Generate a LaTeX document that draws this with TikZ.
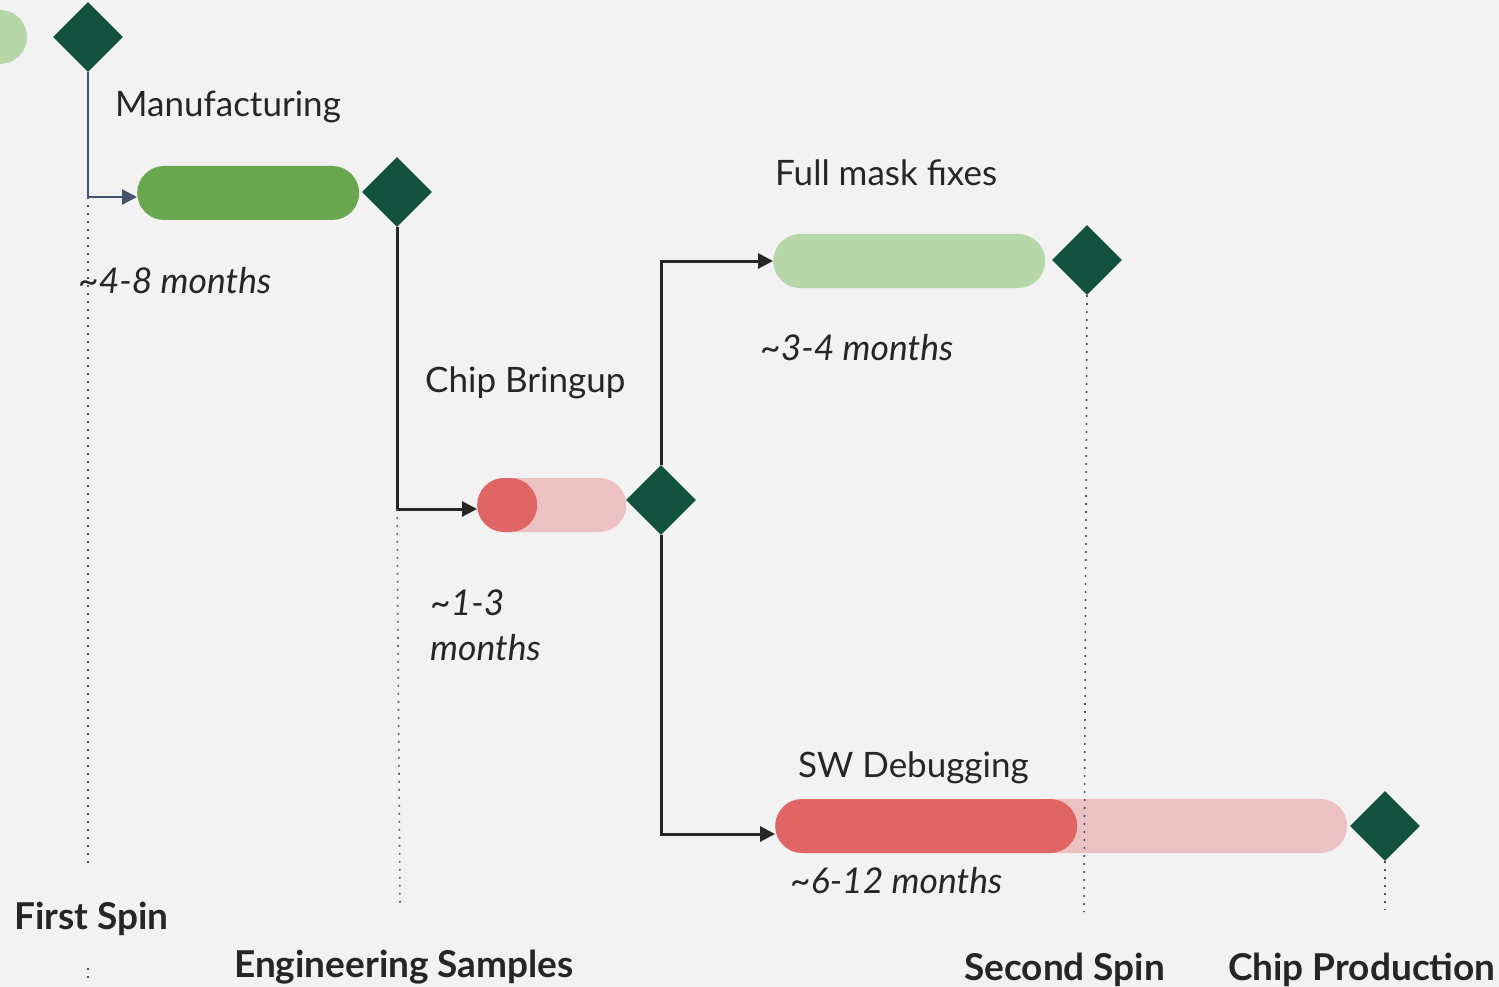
\documentclass[tikz,border=0pt]{standalone}
\usepackage{fontspec}
\setmainfont{Lato}
\usetikzlibrary{shapes.geometric,shapes.misc,arrows.meta,positioning}
\definecolor{fondo}{HTML}{F2F2F2}
\definecolor{verdeosc}{HTML}{12523E}
\definecolor{verdemed}{HTML}{6AA84F}
\definecolor{verdeclaro}{HTML}{B6D7A8}
\definecolor{rojo}{HTML}{E06666}
\definecolor{rosa}{HTML}{ECC1C1}
\definecolor{pizarra}{HTML}{44546A}
\definecolor{tinta}{HTML}{262626}
\begin{document}
\begin{tikzpicture}[x=1pt,y=-1pt,>={Triangle[length=15pt,width=15pt]},
    hito/.style={diamond,fill=verdeosc,minimum size=70pt,inner sep=0pt},
    barra/.style={rounded rectangle,minimum height=54pt,inner sep=0pt,anchor=west},
    texto/.style={anchor=base west,inner sep=0pt,text=tinta,font=\fontsize{35}{45}\selectfont},
    duracion/.style={texto,font=\fontsize{35.5}{45}\selectfont\itshape},
    fase/.style={texto,font=\fontsize{37}{45}\selectfont\bfseries},
    conector/.style={line width=3pt,tinta},
    guia/.style={line width=1.6pt,pizarra,dash pattern=on 1.6pt off 6.4pt}]
      \useasboundingbox (0,0) rectangle (1499,987);
      \clip (0,0) rectangle (1499,987);
      \fill[fondo] (0,0) rectangle (1499,987);

      % Hitos previos
      \fill[verdeclaro] (0,37) circle (27);
      \node[hito] (h1) at (88,37) {};

      % Fabricacion
      \node[barra,fill=verdemed,minimum width=222pt] (fab) at (137,193) {};
      \node[hito] (h2) at (397,192) {};
      \node[texto] (tfab) at (115,117) {Manufacturing};
      \node[duracion] (dfab) at (78,293) {\textasciitilde4-8 months};

      % Bringup
      \node[barra,fill=rosa,minimum width=149pt] (bring) at (477,505) {};
      \node[barra,fill=rojo,minimum width=60pt] (bringp) at (477,505) {};
      \node[hito] (h3) at (661,500) {};
      \node[texto] (tbring) at (425,392) {Chip Bringup};
      \node[duracion,align=left] (dbring) at (430,660) {\textasciitilde1-3\\months};

      % Mascara completa
      \node[barra,fill=verdeclaro,minimum width=272pt] (mask) at (773,261) {};
      \node[hito] (h4) at (1087,260) {};
      \node[texto] (tmask) at (775,186) {Full mask fixes};
      \node[duracion] (dmask) at (760,360) {\textasciitilde3-4 months};

      % Depuracion SW
      \node[barra,fill=rosa,minimum width=572pt] (sw) at (775,826) {};
      \node[barra,fill=rojo,minimum width=302pt] (swp) at (775,826) {};
      \node[hito] (h5) at (1385,826) {};
      \node[texto] (tsw) at (798,777) {SW Debugging};
      \node[duracion] (dsw) at (790,893) {\textasciitilde6-12 months};

      % Conectores
      \coordinate (e1) at ([yshift=-4pt]fab.west);
      \coordinate (e2) at ([yshift=-4pt]bring.west);
      \coordinate (e3) at ([yshift=-8pt]sw.west);
      \coordinate (c1) at (h1.south |- e1);
      \coordinate (c2) at (h2.south |- e2);
      \draw[conector,line width=2.5pt,pizarra,->] (h1.south) -- (c1) -- (e1);
      \draw[conector,->] (h2.south) -- (c2) -- (e2);
      \draw[conector,->] (h3.north) |- (mask.west);
      \draw[conector,->] (h3.south) |- (e3);

      % Guias
      \draw[guia] (c1) -- (88,865);
      \draw[guia] (88,968) -- (88,980);
      \draw[guia] (c2) -- (400,908);
      \draw[guia] (h4.south) -- (1084,912);
      \draw[guia] (h5.south) -- (1385,910);

      % Fases
      \node[fase] (spin1) at (14,929) {First Spin};
      \node[fase] (ing) at (234,977) {Engineering Samples};
      \node[fase] (spin2) at (964,980) {Second Spin};
      \node[fase] (prod) at (1228,980) {Chip Production};
\end{tikzpicture}
\end{document}
